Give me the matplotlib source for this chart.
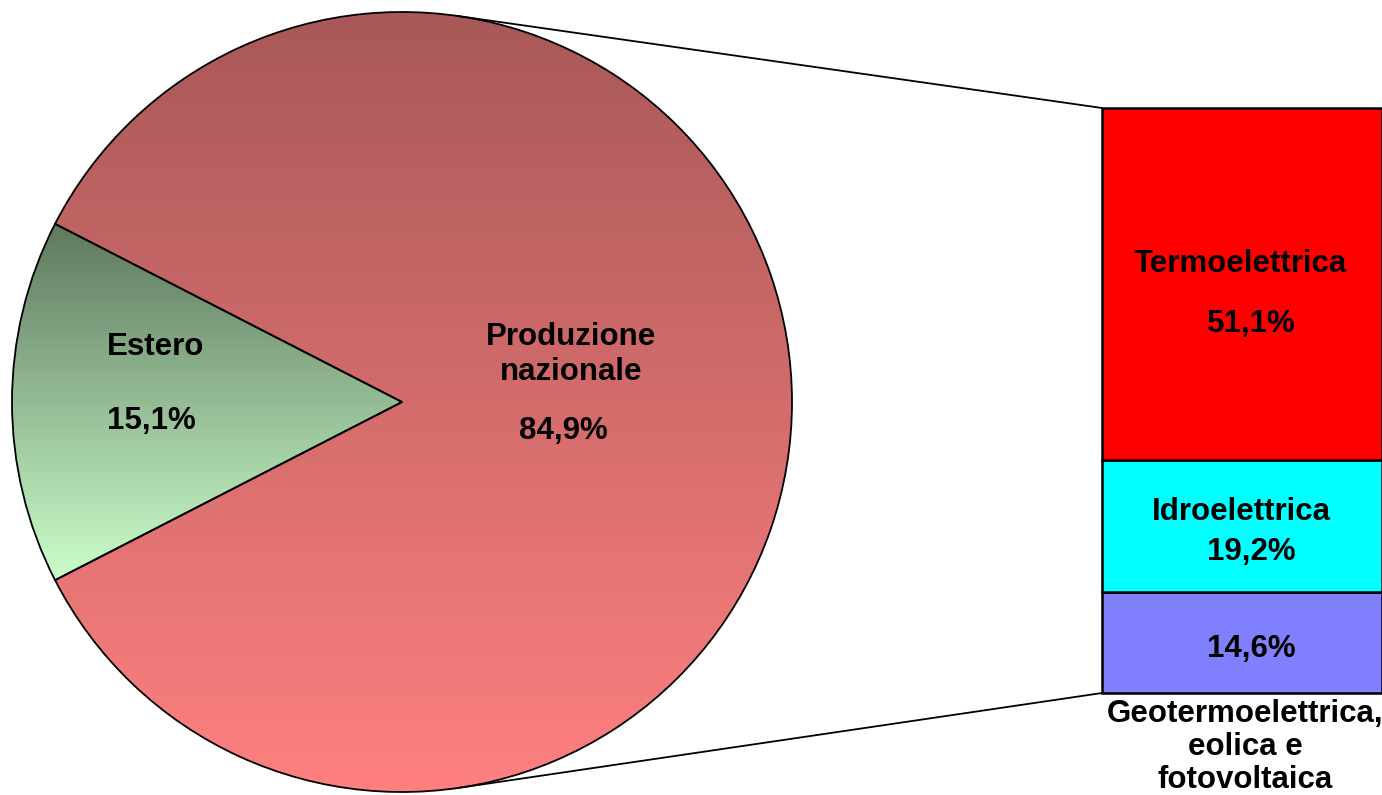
import matplotlib
matplotlib.use("Agg")
import matplotlib.pyplot as plt
import numpy as np
from matplotlib.colors import LinearSegmentedColormap

plt.rcParams['font.family'] = ['Liberation Sans', 'DejaVu Sans']

# dati
pie_labels = ['Estero', 'Produzione\nnazionale']
pie_values = [15.1, 84.9]
pie_pct = ['15,1%', '84,9%']

bar_labels = ['Geotermoelettrica,\neolica e\nfotovoltaica', 'Idroelettrica', 'Termoelettrica']
bar_values = [14.6, 19.2, 51.1]
bar_pct = ['14,6%', '19,2%', '51,1%']
bar_colors = ['#8080FF', '#00FFFF', '#FF0000']

W, H = 1382, 795
fig = plt.figure(figsize=(W / 100, H / 100), dpi=100)
ax = fig.add_axes([0, 0, 1, 1])
ax.set_zorder(2)

# ==== torta ====
cx, cy, R = 402, H - 402, 390
start = 180 - pie_values[0] / 100 * 360 / 2
wedges, _ = ax.pie(pie_values, startangle=start, center=(cx, cy), radius=R,
                   wedgeprops=dict(facecolor='none', edgecolor='black', linewidth=1.3))

grad = np.linspace(0, 1, 256).reshape(-1, 1)
cm_red = LinearSegmentedColormap.from_list('r', ['#A85858', '#FF8080'])
cm_green = LinearSegmentedColormap.from_list('g', ['#5E785E', '#CCFFCC'])

im = ax.imshow(grad, cmap=cm_red, aspect='auto', origin='upper',
               extent=[cx - R, cx + R, cy - R, cy + R], zorder=0)
im.set_clip_path(wedges[1])
im = ax.imshow(grad, cmap=cm_green, aspect='auto', origin='upper',
               extent=[cx - R, cx, H - 582, H - 222], zorder=0)
im.set_clip_path(wedges[0])

ax.set_xlim(0, W)
ax.set_ylim(0, H)
ax.set_aspect('auto')
ax.axis('off')

fs = 22.5
def label(x, y, s, ha='center'):
    ax.text(x, H - y, s, fontsize=fs, fontweight='bold', ha=ha, va='baseline')

label(107, 355, pie_labels[0], ha='left')
label(107, 429, pie_pct[0], ha='left')
for i, line in enumerate(pie_labels[1].split('\n')):
    label(571, 345 + 35 * i, line)
label(563, 439, pie_pct[1])

# ==== barra ====
bx0, bx1, by_top, by_bot = 1102, 1382, 108, 693
bax = fig.add_axes([bx0 / W, (H - by_bot) / H, (bx1 - bx0) / W, (by_bot - by_top) / H])
bax.set_zorder(1)
bottoms = np.concatenate([[0], np.cumsum(bar_values)[:-1]])
bax.bar(0.5, bar_values, width=1, bottom=bottoms, color=bar_colors,
        edgecolor='black', linewidth=1.8, clip_on=False)
bax.set_xlim(0, 1)
bax.set_ylim(0, sum(bar_values))
bax.axis('off')

# linee di collegamento (tangenti al cerchio)
for py in (H - by_top, H - by_bot):
    dx, dy = bx0 - cx, py - cy
    L = np.hypot(dx, dy)
    phi = np.arctan2(dy, dx)
    a = np.arccos(R / L)
    ang = phi + a if dy > 0 else phi - a
    tx, ty = cx + R * np.cos(ang), cy + R * np.sin(ang)
    ax.plot([tx, bx0], [ty, py], color='black', linewidth=1.3)

label(1240, 272, bar_labels[2])
label(1251, 332, bar_pct[2])
label(1241, 520, bar_labels[1])
label(1251, 560, bar_pct[1])
label(1251, 657, bar_pct[0])
for i, line in enumerate(bar_labels[0].split('\n')):
    label(1245, 722 + 33 * i, line)

fig.savefig('out.png', dpi=100)
